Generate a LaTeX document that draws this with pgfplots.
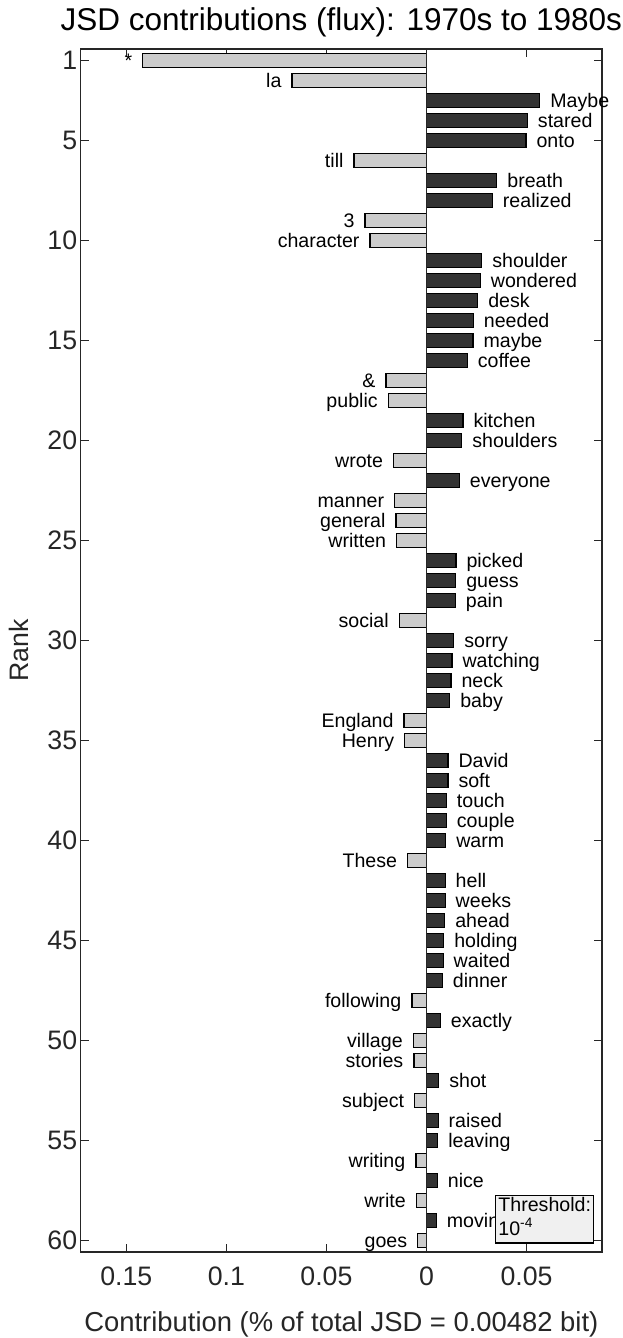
\documentclass[border=0pt]{standalone}
\usepackage{fontspec}
\setmainfont{Liberation Sans}
\usepackage{pgfplots}
\pgfplotsset{compat=1.18}

\definecolor{negbar}{gray}{0.8}
\definecolor{posbar}{gray}{0.2}
\definecolor{axgray}{HTML}{262626}
\definecolor{boxgray}{gray}{0.94}

\newcommand\wordfont{\fontsize{19.6bp}{24bp}\selectfont}
\newcommand\tickfont{\fontsize{26.7bp}{32bp}\selectfont}

\begin{document}
\begin{tikzpicture}
\begin{axis}[
    set layers,
    scale only axis,
    width=521.3bp, height=1203bp,
    xbar, bar width=0.7, bar shift=0pt,
    xmin=-0.1728, xmax=0.0877,
    ymin=0.42, ymax=60.57,
    y dir=reverse,
    clip=false,
    xtick={-0.15,-0.1,-0.05,0,0.05},
    xticklabels={0.15,0.1,0.05,0,0.05},
    ytick={1,5,10,15,20,25,30,35,40,45,50,55,60},
    tick align=inside,
    major tick length=8bp,
    axis line style={axgray, line width=1.3bp},
    every tick/.style={axgray, line width=1.3bp},
    /pgf/number format/assume math mode=true,
    ticklabel style={font=\tickfont, text=axgray},
    xticklabel style={anchor=base, yshift=-34bp},
    title={JSD contributions (flux): 1970s to 1980s},
    title style={font=\fontsize{31.5bp}{36bp}\selectfont, at={(rel axis cs:0.5,1)}, anchor=base, yshift=13bp},
    xlabel={Contribution (\% of total JSD = 0.00482 bit)},
    xlabel style={font=\fontsize{27.4bp}{32bp}\selectfont, text=axgray, at={(rel axis cs:0.5,0)}, anchor=base, yshift=-79bp},
    ylabel={Rank},
    ylabel style={font=\tickfont, text=axgray, at={(rel axis cs:-0.0992,0.5)}, anchor=base},
    point meta=explicit symbolic,
    nodes near coords,
    nodes near coords style={font=\wordfont, text=black},
]
% words that lost share (light bars, to the left)
\addplot[fill=negbar, draw=black, line width=1.2bp,
    every node near coord/.append style={anchor=base east, inner xsep=10bp, yshift=-7bp}]
  coordinates {
    (-0.1418,1) [*]
    (-0.0672,2) [la]
    (-0.0362,6) [till]
    (-0.0307,9) [3]
    (-0.0282,10) [character]
    (-0.0202,17) [\&]
    (-0.0191,18) [public]
    (-0.0164,21) [wrote]
    (-0.0159,23) [manner]
    (-0.0152,24) [general]
    (-0.0149,25) [written]
    (-0.0136,29) [social]
    (-0.0112,34) [England]
    (-0.0109,35) [Henry]
    (-0.0094,41) [These]
    (-0.0073,48) [following]
    (-0.0066,50) [village]
    (-0.0063,51) [stories]
    (-0.0059,53) [subject]
    (-0.0053,56) [writing]
    (-0.0051,58) [write]
    (-0.0044,60) [goes]
  };
% words that gained share (dark bars, to the right)
\addplot[fill=posbar, draw=black, line width=1.2bp,
    every node near coord/.append style={anchor=base west, inner xsep=10bp, yshift=-7bp}]
  coordinates {
    (0.0566,3) [Maybe]
    (0.0504,4) [stared]
    (0.0497,5) [onto]
    (0.0351,7) [breath]
    (0.0329,8) [realized]
    (0.0276,11) [shoulder]
    (0.0269,12) [wondered]
    (0.0256,13) [desk]
    (0.0234,14) [needed]
    (0.0232,15) [maybe]
    (0.0204,16) [coffee]
    (0.0182,19) [kitchen]
    (0.0176,20) [shoulders]
    (0.0164,22) [everyone]
    (0.0147,26) [picked]
    (0.0146,27) [guess]
    (0.0144,28) [pain]
    (0.0136,30) [sorry]
    (0.0127,31) [watching]
    (0.0122,32) [neck]
    (0.0116,33) [baby]
    (0.0107,36) [David]
    (0.0107,37) [soft]
    (0.0099,38) [touch]
    (0.0099,39) [couple]
    (0.0096,40) [warm]
    (0.0093,42) [hell]
    (0.0093,43) [weeks]
    (0.0091,44) [ahead]
    (0.0086,45) [holding]
    (0.0083,46) [waited]
    (0.0079,47) [dinner]
    (0.0069,49) [exactly]
    (0.0061,52) [shot]
    (0.0058,54) [raised]
    (0.0056,55) [leaving]
    (0.0054,57) [nice]
    (0.0049,59) [moving]
  };
\draw[axgray, line width=0.9bp] (axis cs:0,0.42) -- (axis cs:0,60.57);
\begin{pgfonlayer}{axis foreground}
\node[draw=black, line width=1.2bp, fill=boxgray, anchor=north west,
      font=\wordfont, inner xsep=3bp, inner ysep=1.5bp]
  at (rel axis cs:0.7944,0.0474)
  {\parbox[t][44.5bp][t]{92bp}{\raggedright Threshold:\\10\textsuperscript{-4}}};
\end{pgfonlayer}
\coordinate (SW) at (rel axis cs:0,0);
\coordinate (NE) at (rel axis cs:1,1);
\end{axis}
\pgfresetboundingbox
\path[use as bounding box] ([shift={(-80.7bp,-86bp)}]SW) rectangle ([shift={(20.3bp,49bp)}]NE);
\end{tikzpicture}
\end{document}
